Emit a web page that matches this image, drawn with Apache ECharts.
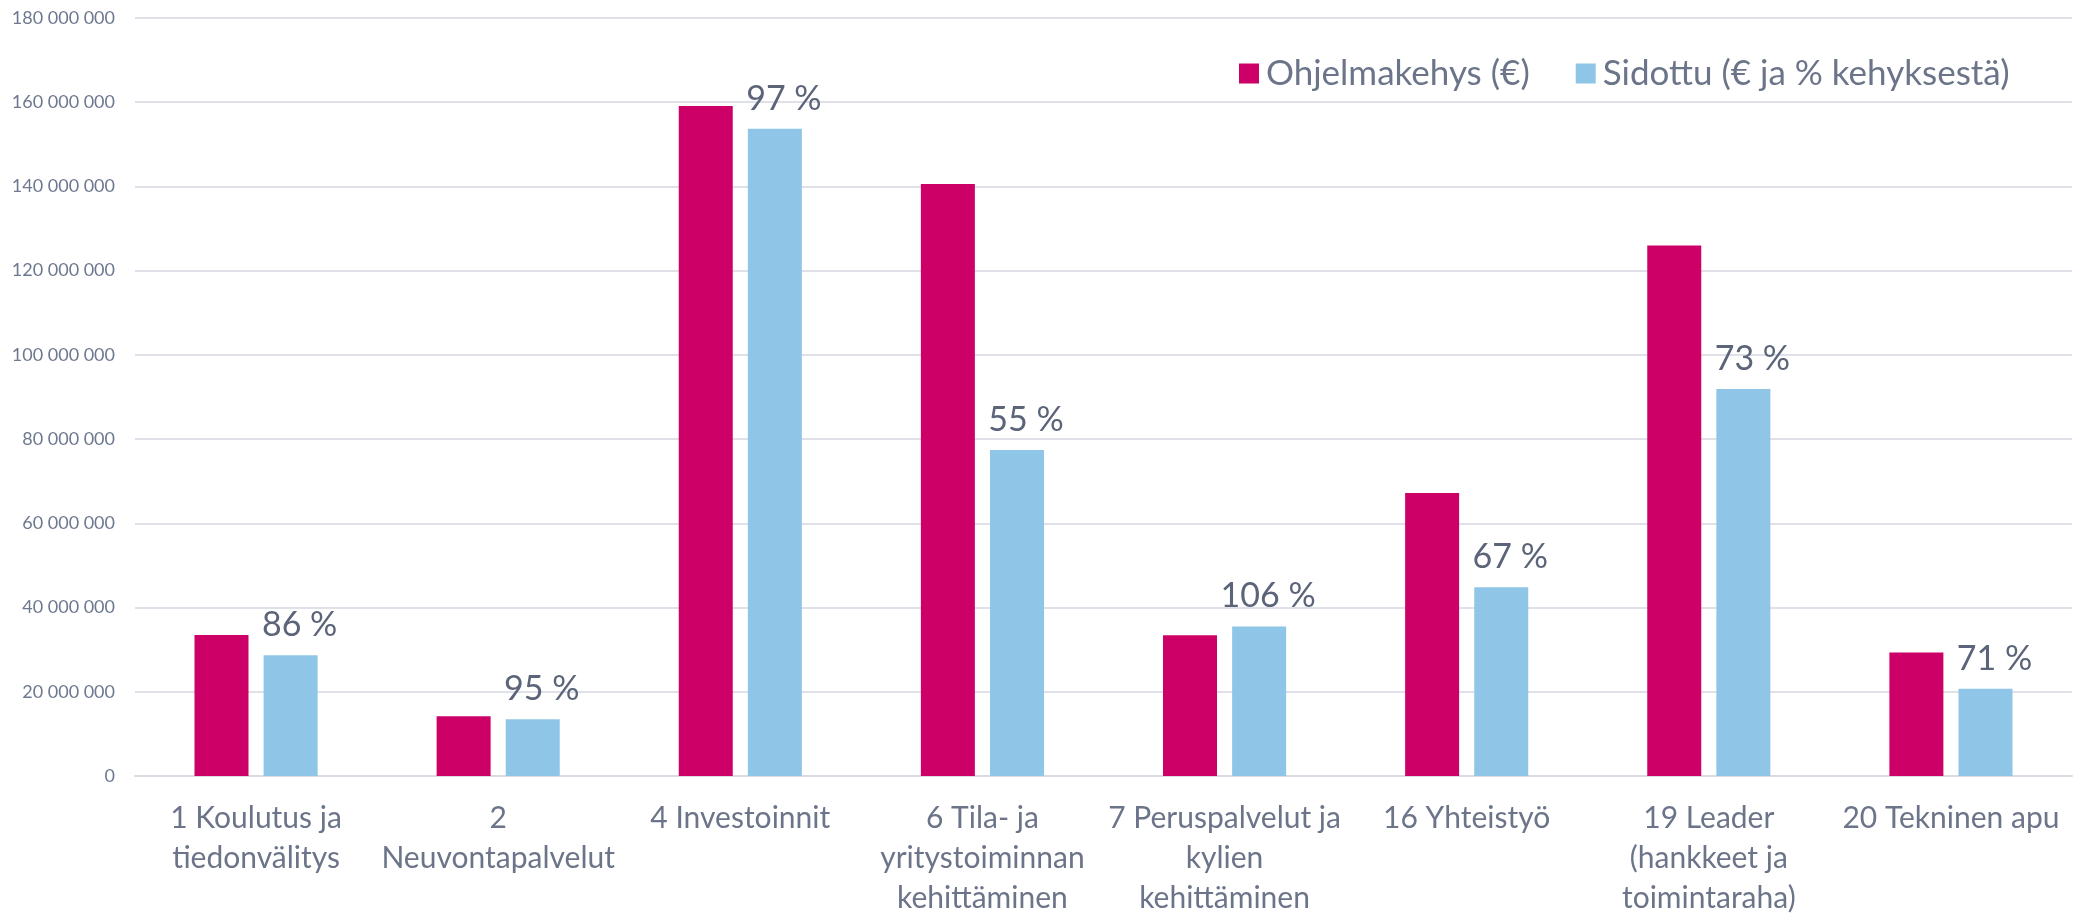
<!DOCTYPE html>
<html>
<head>
  <meta charset="utf-8">
  <title>Ohjelmakehys ja sidottu</title>
  <script src="https://cdn.jsdelivr.net/npm/echarts@6/dist/echarts.min.js"></script>
  <style>
    html, body { margin: 0; padding: 0; background: #fff; }
    #main { width: 2085px; height: 915px; }
  </style>
</head>
<body>
  <div id="main"></div>

  <script>
    const categories = [
      '1 Koulutus ja\ntiedonvälitys',
      '2\nNeuvontapalvelut',
      '4 Investoinnit',
      '6 Tila- ja\nyritystoiminnan\nkehittäminen',
      '7 Peruspalvelut ja\nkylien\nkehittäminen',
      '16 Yhteistyö',
      '19 Leader\n(hankkeet ja\ntoimintaraha)',
      '20 Tekninen apu'
    ];
    // euroa
    const ohjelmakehys = [33500000, 14200000, 159100000, 140600000, 33400000, 67200000, 126000000, 29300000];
    const sidottu = [28700000, 13500000, 153700000, 77400000, 35500000, 44800000, 91900000, 20700000];
    const osuus = ['86 %', '95 %', '97 %', '55 %', '106 %', '67 %', '73 %', '71 %'];

    const font = 'Lato';
    const fmt = v => String(v).replace(/\B(?=(\d{3})+(?!\d))/g, ' ');

    const chart = echarts.init(document.getElementById('main'));
    const option = {
      animation: false,
      textStyle: { fontFamily: font },
      grid: { left: 135, right: 13, top: 18, bottom: 139, containLabel: false, outerBoundsMode: 'none' },
      legend: {
        left: 1234, top: 51,
        icon: 'rect', itemWidth: 20, itemHeight: 20, itemGap: 46,
        textStyle: { fontFamily: font, fontSize: 35, color: '#6B7489', padding: [0, 0, 0, 2] },
        data: ['Ohjelmakehys (€)', 'Sidottu (€ ja % kehyksestä)']
      },
      xAxis: {
        type: 'category',
        data: categories,
        axisLine: { lineStyle: { color: '#DADAE2', width: 2 } },
        axisTick: { show: false },
        axisLabel: {
          interval: 0, margin: 22, fontSize: 30, lineHeight: 40,
          color: '#6B7489', fontFamily: font
        }
      },
      yAxis: {
        type: 'value',
        min: 0, max: 180000000, interval: 20000000,
        axisLine: { show: false },
        axisTick: { show: false },
        splitLine: { lineStyle: { color: '#E0E0E8', width: 2 } },
        axisLabel: {
          margin: 20, fontSize: 18, color: '#6E788F', fontFamily: font,
          formatter: fmt
        }
      },
      series: [
        {
          name: 'Ohjelmakehys (€)',
          type: 'bar',
          data: ohjelmakehys,
          barWidth: 54,
          barGap: '28%',
          itemStyle: { color: '#CD0067' }
        },
        {
          name: 'Sidottu (€ ja % kehyksestä)',
          type: 'bar',
          data: sidottu,
          barWidth: 54,
          itemStyle: { color: '#8FC6E7' },
          label: {
            show: true,
            position: 'top',
            distance: 13,
            offset: [9, 0],
            fontSize: 34,
            fontFamily: font,
            color: '#5B6478',
            formatter: p => osuus[p.dataIndex]
          }
        }
      ]
    };
    chart.setOption(option);
  </script>
</body>
</html>
